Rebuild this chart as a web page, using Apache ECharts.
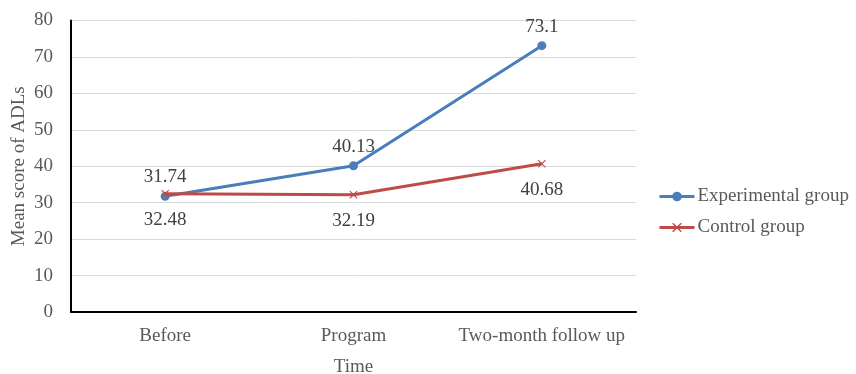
<!DOCTYPE html>
<html><head><meta charset="utf-8">
<script src="https://cdn.jsdelivr.net/npm/echarts@6/dist/echarts.min.js"></script>
<style>html,body{margin:0;padding:0;background:#fff}#c{width:856px;height:374px}</style>
</head><body><div id="c"></div>
<script>
const categories = ['Before', 'Program', 'Two-month follow up'];
const experimental = [31.74, 40.13, 73.1];
const control = [32.48, 32.19, 40.68];
const yTicks = [0, 10, 20, 30, 40, 50, 60, 70, 80];

const font = 'Liberation Serif, Times New Roman, serif';
const fs = 19;
const grey = '#595959';
const blue = '#4A7EBB';
const red = '#BE4B48';
const cross = 'path://M0,1L1,0L5,4L9,0L10,1L6,5L10,9L9,10L5,6L1,10L0,9L4,5Z';

const chart = echarts.init(document.getElementById('c'));
chart.setOption({
  animation: false,
  textStyle: { fontFamily: font },
  grid: { left: 71, right: 220, top: 20.5, bottom: 62, containLabel: false, outerBoundsMode: 'none' },
  legend: {
    orient: 'vertical', left: 653, top: 182, itemWidth: 35, itemHeight: 12, itemGap: 12,
    lineStyle: { width: 3 },
    textStyle: { fontFamily: font, fontSize: fs, color: grey, padding: [0, 0, 0, -2] },
    data: ['Experimental group', 'Control group']
  },
  xAxis: {
    type: 'category', data: categories, boundaryGap: true,
    name: 'Time', nameLocation: 'middle', nameGap: 46,
    nameTextStyle: { fontFamily: font, fontSize: fs, color: grey },
    axisLine: { lineStyle: { color: '#000', width: 2 } },
    axisTick: { show: false },
    axisLabel: { interval: 0, fontFamily: font, fontSize: fs, color: grey, margin: 15 }
  },
  yAxis: {
    type: 'value', min: yTicks[0], max: yTicks[yTicks.length - 1], interval: 10,
    name: 'Mean score of ADLs', nameLocation: 'middle', nameGap: 42, nameMoveOverlap: false,
    nameTextStyle: { fontFamily: font, fontSize: fs, color: grey },
    axisLine: { show: true, lineStyle: { color: '#000', width: 2 } },
    axisTick: { show: false },
    axisLabel: { fontFamily: font, fontSize: fs, color: grey, margin: 18 },
    splitLine: { lineStyle: { color: '#d9d9d9', width: 1 } }
  },
  series: [
    {
      name: 'Experimental group', type: 'line', data: experimental,
      symbol: 'circle', symbolSize: 9,
      lineStyle: { color: blue, width: 3 },
      itemStyle: { color: blue },
      label: { show: true, position: 'top', distance: 5, fontFamily: font, fontSize: fs, color: '#404040' },
      z: 2
    },
    {
      name: 'Control group', type: 'line', data: control,
      symbol: cross, symbolSize: 8,
      lineStyle: { color: red, width: 3 },
      itemStyle: { color: red },
      label: { show: true, position: 'bottom', distance: 13, fontFamily: font, fontSize: fs, color: '#404040' },
      z: 3
    }
  ]
});
</script></body></html>
